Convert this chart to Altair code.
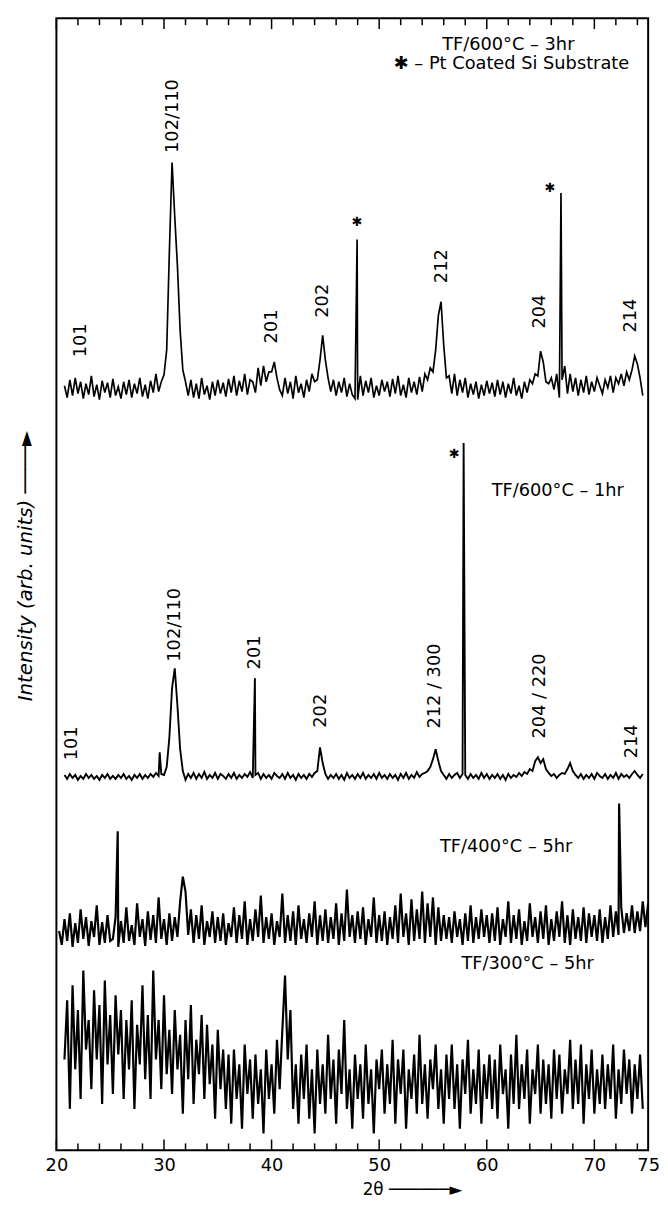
import altair as alt
import pandas as pd

# ---------------- data ----------------
STEP = 0.25

# TF/600°C - 3hr (top trace); values are intensity above its own baseline
t1_start = 20.75
t1_offset = 770
t1_vals = [
    4, -8, 10, -6, 12, -4, 8, -9, 6, -5, 14, -7, 5, -10, 9, -3, 7, -8, 11, -6,
    3, -9, 8, -5, 10, -8, 6, -4, 12, -7, 5, -9, 9, -3, 16, -2, 8, 15, 40, 140,
    230, 175, 125, 60, 20, 8, -6, 10, -8, 6, -9, 12, -5, 4, -10, 8, -6, 10, -4, 7,
    -7, 11, -3, 14, -6, 9, -2, 16, -5, 10, 8, -3, 22, 4, 24, 8, 18, 18, 28, 12,
    0, -6, 12, -4, 8, -9, 14, -3, 6, -8, 10, -2, 16, 8, 10, 30, 55, 30, 12, -2,
    10, -6, 8, -3, 12, -7, 6, -5, -9, -10, 14, -6, 9, -3, 12, -8, 4, -6, 10, -2,
    8, -7, 11, -4, 14, -6, 5, -8, 12, -3, 8, -5, 13, -2, 16, 10, 22, 18, 40, 75,
    89, 45, 12, 14, -4, 16, -6, 10, -3, 12, -8, 6, -5, 8, -9, 5, -6, 9, -4, 7,
    -7, 10, -5, 8, -8, 6, -4, 12, -6, 4, -9, 8, -3, 10, 6, 16, 14, 39, 28, 8,
    6, 12, 0, 16, -8, 10, 24, -4, 16, -2, 12, -6, 10, -3, 14, -5, 8, -2, 12, 4,
    -4, 10, 2, 14, -3, 12, 6, 16, 4, 18, 10, 20, 34, 26, 12, -6,
]
t1_spike_x = [47.95, 66.9]
t1_spike_y = [152, 199]

# TF/600°C - 1hr
t2_start = 20.75
t2_offset = 378
t2_vals = [
    2, -2, 3, -1, 2, -3, 1, -2, 3, -1, 2, -2, 1, -3, 2, -1, 3, -2, 1, -2,
    2, -1, 3, -2, 1, -3, 2, -1, 3, -2, 2, -1, 3, 0, 4, 1, 3, 2, 10, 40,
    90, 110, 72, 28, 6, -3, 3, -1, 4, -2, 3, -1, 5, -2, 2, -1, 4, -2, 3, 1,
    -2, 3, -1, 4, -2, 2, -1, 3, 0, 5, -1, 2, 4, -2, 3, -1, 2, -2, 4, 1,
    -1, 3, -2, 4, -1, 2, -3, 3, -1, 2, -2, 3, 0, 4, 6, 30, 14, 3, -2, 2,
    -1, 3, -2, 2, -3, 4, -1, 2, -2, 3, -1, 4, -2, 2, -1, 3, -2, 4, -1, 2,
    -2, 3, -1, 2, -3, 3, -1, 4, -2, 2, -1, 5, 0, 3, 4, 6, 10, 18, 28, 16,
    6, 2, -2, 3, -1, 2, 4, -1, 3, 2, -2, 3, -1, 2, -2, 4, -1, 3, -2, 2,
    -1, 3, -2, 2, -3, 3, -1, 2, 0, 4, 1, 5, 3, 8, 6, 16, 20, 14, 18, 8,
    4, 1, 3, -1, 2, 4, 3, 8, 14, 6, 2, -1, 3, -2, 2, -1, 3, -2, 4, 1,
    -1, 3, -2, 2, -1, 4, -2, 3, 0, 2, -1, 3, 6, 2, -1, 3,
]
t2_spike_x = [29.6, 38.45, 57.85]
t2_spike_y = [25, 100, 338]

# TF/400°C - 5hr
t3_start = 20.25
t3_offset = 222
t3_vals = [
    0, -14, 12, -10, 18, -16, 8, -12, 22, -8, 14, -15, 10, -6, 26, -14, 9, -12, 16, -10,
    -8, 14, -16, 10, -12, 24, -10, 6, -14, 28, -6, 12, -15, 20, -9, 16, -12, 34, -8, 12,
    -14, 18, -10, 14, -6, 30, 55, 40, -4, 22, -12, 16, -8, 26, -14, 10, -6, 20, -12, 14,
    -10, 18, -14, 8, -6, 24, -12, 16, -8, 30, -14, 12, -10, 22, -6, 36, -12, 14, -8, 18,
    -14, 10, -6, 38, -12, 16, -10, 20, -14, 26, -8, 12, -12, 18, -6, 30, -14, 16, -10, 22,
    -12, 14, -8, 28, -14, 18, -10, 42, -6, 16, -12, 20, -8, 24, -14, 12, -6, 34, -12, 16,
    -10, 20, -14, 14, -8, 26, -12, 38, -6, 18, -14, 32, -10, 22, -8, 40, -12, 28, -6, 34,
    -14, 24, -10, 16, -8, 14, -12, 20, -6, 12, -14, 18, -10, 26, -12, 14, -8, 22, -6, 16,
    -12, 18, -10, 24, -14, 12, -6, 30, -12, 16, -8, 22, -14, 10, -10, 28, -6, 14, -12, 20,
    -8, 26, -14, 12, -10, 20, -6, 30, -12, 16, -14, 22, -8, 14, -10, 24, -12, 18, -6, 16,
    -10, 22, -12, 14, -8, 26, -6, 20, -4, 24, -2, 18, 0, 26, -2, 20, 0, 30, 4, 28,
]
t3_spike_x = [25.7, 72.3]
t3_spike_y = [101, 129]

# TF/300°C - 5hr
t4_start = 20.75
t4_offset = 72
t4_vals = [
    20, 80, -30, 95, 10, 70, -20, 110, 30, 60, -10, 90, 20, 75, -25, 100, 15, 65, -15, 85,
    25, 70, -20, 60, 10, 80, -30, 55, 15, 95, 0, 65, -20, 110, 20, 60, -10, 85, 5, 50,
    -15, 70, 10, 45, -35, 60, 0, 75, -25, 40, 5, 65, -20, 55, -5, 35, -40, 50, -10, 30,
    -30, 25, -45, 30, -20, 15, -50, 35, -15, 20, -40, 25, -25, 10, -55, 30, -20, 15, -35, 40,
    -10, 50, 105, 20, 70, -30, 15, -45, 25, -20, 35, -40, 10, -55, 30, -25, 15, -35, 45, -20,
    20, -45, 30, -15, 60, -30, 10, -50, 25, -20, 15, -40, 35, -25, 10, -55, 20, -10, 30, -35,
    15, -25, 40, -45, 20, -15, 30, -50, 10, -20, 25, -35, 45, -25, 15, -40, 20, -10, 35, -30,
    10, -45, 25, -20, 35, -30, 15, -50, 20, -15, 40, -35, 10, -25, 30, -45, 15, -20, 25, -30,
    20, -40, 35, -15, 10, -50, 25, -25, 45, -30, 15, -20, 30, -45, 10, -15, 35, -35, 20, -25,
    15, -40, 30, -20, 25, -35, 10, -15, 40, -30, 20, -25, 35, -45, 15, -20, 30, -35, 10, -25,
    25, -30, 15, -20, 35, -40, 10, -25, 30, -15, 20, -35, 15, -20, 25, -30,
]
t4_spike_x = []
t4_spike_y = []

# peak index labels (rotated)
peak_labels = ["101", "102/110", "201", "202", "212", "204", "214",
               "101", "102/110", "201", "202", "212 / 300", "204 / 220", "214"]
peak_label_x = [22.3, 30.8, 40.0, 44.8, 55.8, 65.0, 73.4,
                21.5, 31.0, 38.45, 44.6, 55.2, 65.0, 73.5]
peak_label_y = [820, 1047, 834, 860, 895, 849, 845,
                412, 532, 504, 445, 470, 460, 414]

# substrate markers
star_x = [47.95, 65.9, 57.0]
star_y = [940, 974, 705]

# sample captions
caption_text = ["TF/600°C – 3hr", "✱ – Pt Coated Si Substrate", "TF/600°C – 1hr",
                "TF/400°C – 5hr", "TF/300°C – 5hr"]
caption_x = [62.0, 62.3, 66.6, 61.8, 63.8]
caption_y = [1119, 1100, 667, 307, 189]

x_tick_labels = [20, 30, 40, 50, 60, 70, 75]
major_ticks = [20, 30, 40, 50, 60, 70]
minor_ticks = [22, 24, 26, 28, 32, 34, 36, 38, 42, 44, 46, 48, 52, 54, 56, 58,
               62, 64, 66, 68, 72, 74]

# ---------------- build tables ----------------
Y_TOP = 1146
traces = [
    ("600C-3hr", t1_start, t1_offset, t1_vals, t1_spike_x, t1_spike_y, 1.7),
    ("600C-1hr", t2_start, t2_offset, t2_vals, t2_spike_x, t2_spike_y, 1.9),
    ("400C-5hr", t3_start, t3_offset, t3_vals, t3_spike_x, t3_spike_y, 2.2),
    ("300C-5hr", t4_start, t4_offset, t4_vals, t4_spike_x, t4_spike_y, 2.2),
]
rows = []
for name, start, off, vals, sx, sy, w in traces:
    pts = [(start + STEP * i, off + v) for i, v in enumerate(vals)]
    pts += [(x, off + y) for x, y in zip(sx, sy)]
    pts.sort(key=lambda p: p[0])
    for k, (x, y) in enumerate(pts):
        rows.append({"x": x, "y": y, "trace": name, "order": k, "w": w})
df = pd.DataFrame(rows)

tick_rows = []
for t in major_ticks:
    tick_rows.append({"x": t, "y": 0, "y2": 11})
    tick_rows.append({"x": t, "y": Y_TOP, "y2": Y_TOP - 11})
for t in minor_ticks:
    tick_rows.append({"x": t, "y": 0, "y2": 7})
    tick_rows.append({"x": t, "y": Y_TOP, "y2": Y_TOP - 7})
ticks_df = pd.DataFrame(tick_rows)

labels_df = pd.DataFrame({"x": peak_label_x, "y": peak_label_y, "text": peak_labels})
stars_df = pd.DataFrame({"x": star_x, "y": star_y, "text": ["✱"] * len(star_x)})
caps_df = pd.DataFrame({"x": caption_x, "y": caption_y, "text": caption_text})

FONT = "DejaVu Sans"
x_scale = alt.Scale(domain=[20, 75], nice=False, zero=False)
y_scale = alt.Scale(domain=[0, Y_TOP], nice=False, zero=False)

lines = alt.Chart(df).mark_line(color="black", strokeJoin="miter").encode(
    detail="trace:N",
    order="order:Q",
    strokeWidth=alt.StrokeWidth("w:Q", scale=None),
)
ticks = alt.Chart(ticks_df).mark_rule(color="black", strokeWidth=1.5).encode(y2="y2:Q")
peak_text = alt.Chart(labels_df).mark_text(
    angle=270, font=FONT, fontSize=18, align="center", baseline="middle", color="black"
).encode(text="text:N")
star_text = alt.Chart(stars_df).mark_text(
    font=FONT, fontSize=13, align="center", baseline="middle", color="black"
).encode(text="text:N")
cap_text = alt.Chart(caps_df).mark_text(
    font=FONT, fontSize=18, align="center", baseline="middle", color="black"
).encode(text="text:N")

chart = alt.layer(lines, ticks, peak_text, star_text, cap_text).encode(
    x=alt.X("x:Q", scale=x_scale, axis=alt.Axis(
        values=x_tick_labels, ticks=False, domain=False, grid=False,
        labelFont=FONT, labelFontSize=18, labelColor="black", labelPadding=6,
        labelFlush=False, labelOverlap=False,
        title="2θ ──────►", titleFont=FONT, titleFontSize=17, titleFontWeight="normal",
        titleColor="black", titleX=360, titleY=40, titleAlign="center", titleBaseline="middle")),
    y=alt.Y("y:Q", scale=y_scale, axis=alt.Axis(
        labels=False, ticks=False, domain=False, grid=False,
        title="Intensity (arb. units) ────►", titleFont=FONT, titleFontSize=20,
        titleFontStyle="italic", titleFontWeight="normal", titleColor="black",
        titleAngle=270, titleX=-31, titleY=554, titleAlign="center", titleBaseline="middle")),
).properties(
    width=599, height=Y_TOP,
    autosize=alt.AutoSizeParams(type="none"),
    padding={"left": 49, "top": 3, "right": 12, "bottom": 50},
).configure_view(stroke="black", strokeWidth=2)

chart.save("out.html", embed_options={"renderer": "svg", "actions": False})
